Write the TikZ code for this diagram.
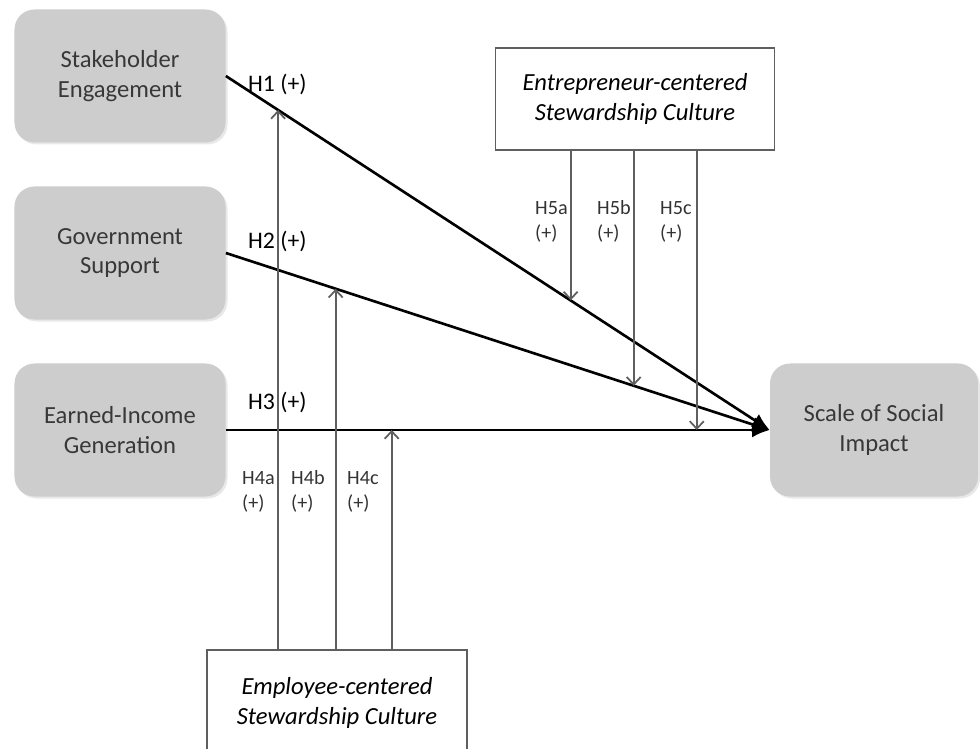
\documentclass[tikz,border=0pt]{standalone}
\usepackage{fontspec}
\setmainfont{Carlito}
\usetikzlibrary{arrows.meta,shadows}

\definecolor{boxgray}{RGB}{205,205,205}
\definecolor{linegray}{RGB}{95,95,95}

\tikzset{
  factor/.style={rectangle, rounded corners=4mm, fill=boxgray, text=black!78,
    align=center, minimum width=42.2mm, minimum height=26.6mm,
    font=\fontsize{14}{17}\selectfont,
    drop shadow={shadow xshift=0.4mm, shadow yshift=-0.4mm, opacity=0.18}},
  culture/.style={rectangle, draw=linegray, line width=0.9pt, fill=white,
    align=center, font=\fontsize{14}{17}\selectfont\itshape},
  effect/.style={line width=1.5pt, -{Latex[length=3.5mm,width=3mm]}},
  moderator/.style={draw=linegray, line width=1pt,
    -{Straight Barb[length=1.5mm,width=2.8mm]}},
  hyp/.style={font=\fontsize{13.5}{16}\selectfont, anchor=west},
  subhyp/.style={font=\fontsize{11.5}{14}\selectfont, anchor=north west,
    align=left, text=black!80}
}

\begin{document}
\begin{tikzpicture}[x=0.2mm, y=-0.2mm]
    \useasboundingbox (0,0) rectangle (980,749);

    % constructs
    \node[factor] (stake) at (120,76) {Stakeholder\\Engagement};
    \node[factor] (gov) at (120,253) {Government\\Support};
    \node[factor] (earn) at (120,430) {Earned-Income\\Generation};
    \node[factor, minimum width=41.6mm] (impact) at (874,430) {Scale of Social\\Impact};
    \node[culture, minimum width=55.8mm, minimum height=20.4mm] (entr) at (635,99)
        {Entrepreneur-centered\\Stewardship Culture};
    \node[culture, minimum width=52mm, minimum height=21.2mm] (emp) at (337,703)
        {Employee-centered\\Stewardship Culture};

    % direct effects
    \draw[effect] (stake.east) -- coordinate[pos=0.096] (h1a) coordinate[pos=0.634] (h1b) (impact.west);
    \draw[effect] (gov.east) -- coordinate[pos=0.202] (h2a) coordinate[pos=0.75] (h2b) (impact.west);
    \draw[effect] (earn.east) -- coordinate[pos=0.305] (h3a) coordinate[pos=0.866] (h3b) (impact.west);

    % moderation
    \draw[moderator] (h1a |- emp.north) -- (h1a);
    \draw[moderator] (h2a |- emp.north) -- (h2a);
    \draw[moderator] (h3a |- emp.north) -- (h3a);
    \draw[moderator] (h1b |- entr.south) -- (h1b);
    \draw[moderator] (h2b |- entr.south) -- (h2b);
    \draw[moderator] (h3b |- entr.south) -- (h3b);

    % labels
    \node[hyp] (lh1) at (242,84) {H1 (+)};
    \node[hyp] (lh2) at (242,241) {H2 (+)};
    \node[hyp] (lh3) at (242,402) {H3 (+)};
    \node[subhyp] (lh4a) at (236,461) {\strut H4a\\\strut(+)};
    \node[subhyp] (lh4b) at (285,461) {\strut H4b\\\strut(+)};
    \node[subhyp] (lh4c) at (341,461) {\strut H4c\\\strut(+)};
    \node[subhyp] (lh5a) at (529,191) {\strut H5a\\\strut(+)};
    \node[subhyp] (lh5b) at (591,191) {\strut H5b\\\strut(+)};
    \node[subhyp] (lh5c) at (654,191) {\strut H5c\\\strut(+)};
\end{tikzpicture}
\end{document}
